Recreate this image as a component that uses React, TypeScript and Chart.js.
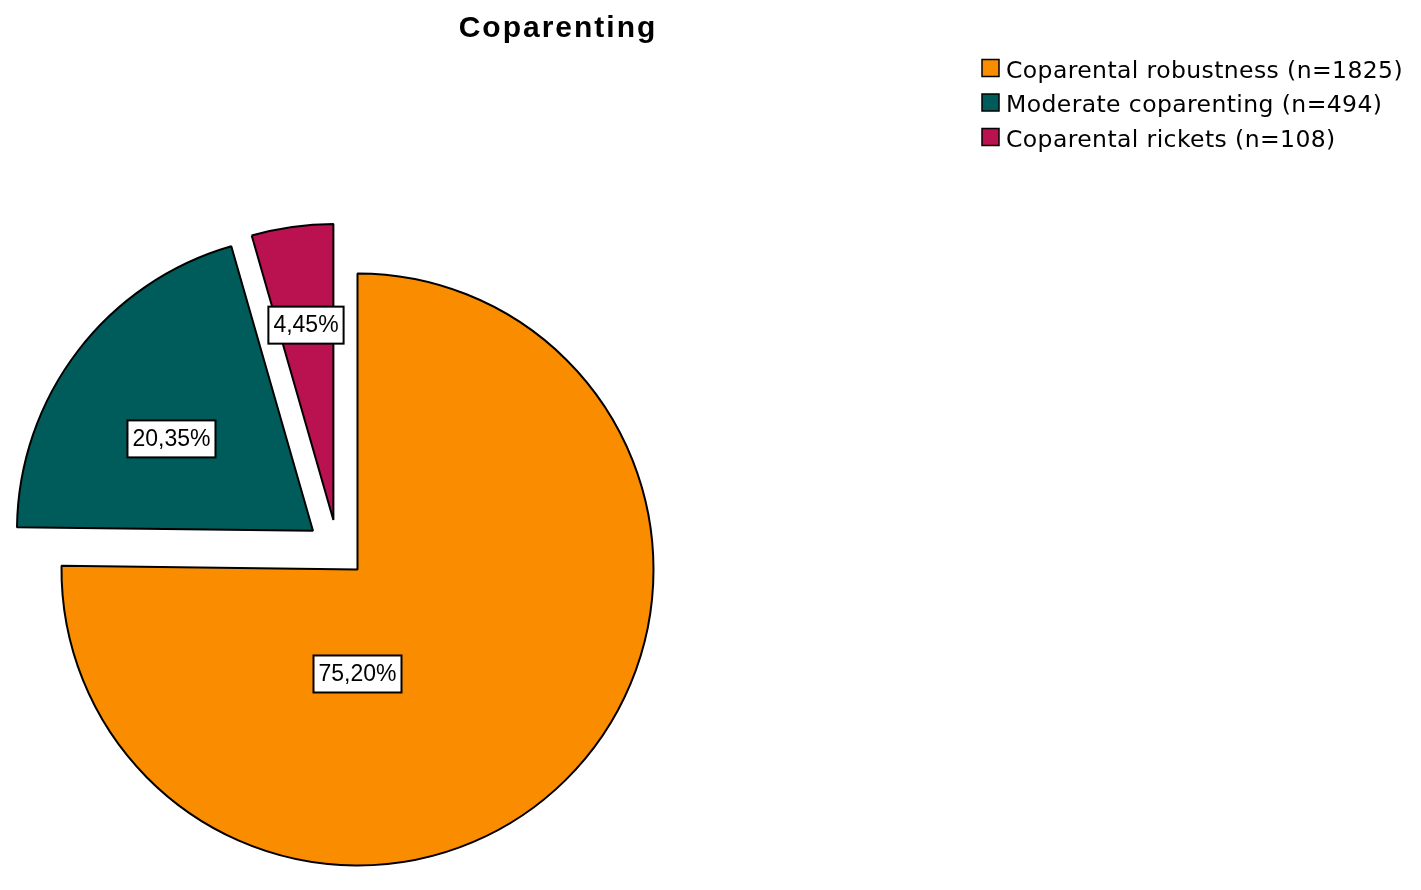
import React, { useEffect, useRef } from "react";
import { Chart, registerables } from "chart.js";

Chart.register(...registerables);

// ---- data ----
const chartTitle = "Coparenting";
const categories = ["Coparental robustness", "Moderate coparenting", "Coparental rickets"];
const counts = [1825, 494, 108];

// ---- style ----
const sliceColors = ["#FA8C00", "#005B5B", "#BA1151"];
// exploded slices: distance (px) and direction (deg clockwise from 12 o'clock)
const explodeDistance = [0, 59, 55];
const explodeDirection = [0, 311, 334];
// value label anchor relative to each slice apex
const labelDirection = [180, 303, 352];
const labelRadiusFraction = [0.353, 0.57, 0.665];

const W = 1405;
const H = 874;

const explodePlugin = {
  id: "explodeSlices",
  afterDatasetsUpdate(chart: any) {
    const meta = chart.getDatasetMeta(0);
    meta.data.forEach((el: any, i: number) => {
      const d = explodeDistance[i] || 0;
      const a = (explodeDirection[i] * Math.PI) / 180;
      el.x += d * Math.sin(a);
      el.y -= d * Math.cos(a);
    });
  },
};

const fmtPct = (v: number, total: number) =>
  ((v / total) * 100).toFixed(2).replace(".", ",") + "%";

const labelPlugin = {
  id: "valueLabels",
  afterDatasetsDraw(chart: any) {
    const ctx = chart.ctx;
    const meta = chart.getDatasetMeta(0);
    const data = chart.data.datasets[0].data as number[];
    const total = data.reduce((s, v) => s + v, 0);
    ctx.save();
    ctx.font = "23px 'Liberation Sans', Arial, sans-serif";
    ctx.textAlign = "center";
    ctx.textBaseline = "middle";
    meta.data.forEach((el: any, i: number) => {
      const a = (labelDirection[i] * Math.PI) / 180;
      const r = el.outerRadius * labelRadiusFraction[i];
      const x = el.x + r * Math.sin(a);
      const y = el.y - r * Math.cos(a);
      const text = fmtPct(data[i], total);
      const tw = ctx.measureText(text).width;
      const bw = tw + 10;
      const bh = 37;
      ctx.fillStyle = "#ffffff";
      ctx.fillRect(x - bw / 2, y - bh / 2, bw, bh);
      ctx.lineWidth = 2;
      ctx.strokeStyle = "#000000";
      ctx.strokeRect(x - bw / 2, y - bh / 2, bw, bh);
      ctx.fillStyle = "#000000";
      ctx.fillText(text, x, y + 1);
    });
    ctx.restore();
  },
};

const titleLegendPlugin = {
  id: "titleLegend",
  afterDraw(chart: any) {
    const ctx = chart.ctx;
    ctx.save();
    // title
    ctx.font = "bold 30px 'Liberation Sans', Arial, sans-serif";
    (ctx as any).letterSpacing = "2px";
    ctx.fillStyle = "#000000";
    ctx.textAlign = "center";
    ctx.textBaseline = "alphabetic";
    ctx.fillText(chartTitle, 550, 29);
    // legend
    const labels = chart.data.labels as string[];
    const data = chart.data.datasets[0].data as number[];
    const cols = chart.data.datasets[0].backgroundColor as string[];
    ctx.font = "23.5px 'DejaVu Sans', sans-serif";
    (ctx as any).letterSpacing = "0.4px";
    ctx.textAlign = "left";
    labels.forEach((lab, i) => {
      const base = 69.5 + i * 34.5;
      ctx.fillStyle = cols[i];
      ctx.fillRect(974, base - 18, 17, 17);
      ctx.lineWidth = 1.5;
      ctx.strokeStyle = "#000000";
      ctx.strokeRect(974, base - 18, 17, 17);
      ctx.fillStyle = "#000000";
      ctx.fillText(`${lab} (n=${data[i]})`, 998, base);
    });
    (ctx as any).letterSpacing = "0px";
    ctx.restore();
  },
};

export default function App() {
  const canvasRef = useRef<HTMLCanvasElement | null>(null);

  useEffect(() => {
    if (!canvasRef.current) return;
    const chart = new Chart(canvasRef.current, {
      type: "pie",
      data: {
        labels: categories,
        datasets: [
          {
            data: counts,
            backgroundColor: sliceColors,
            borderColor: "#000000",
            borderWidth: 2,
          },
        ],
      },
      options: {
        animation: false,
        responsive: true,
        maintainAspectRatio: false,
        radius: 296,
        layout: {
          padding: { left: 49.5, right: 755.5, top: 261.5, bottom: 12.5 },
        },
        plugins: {
          legend: { display: false },
          title: { display: false },
          tooltip: { enabled: true },
        },
      } as any,
      plugins: [explodePlugin, labelPlugin, titleLegendPlugin],
    });
    return () => chart.destroy();
  }, []);

  return (
    <div style={{ position: "relative", width: W, height: H }}>
      <canvas ref={canvasRef} />
    </div>
  );
}
